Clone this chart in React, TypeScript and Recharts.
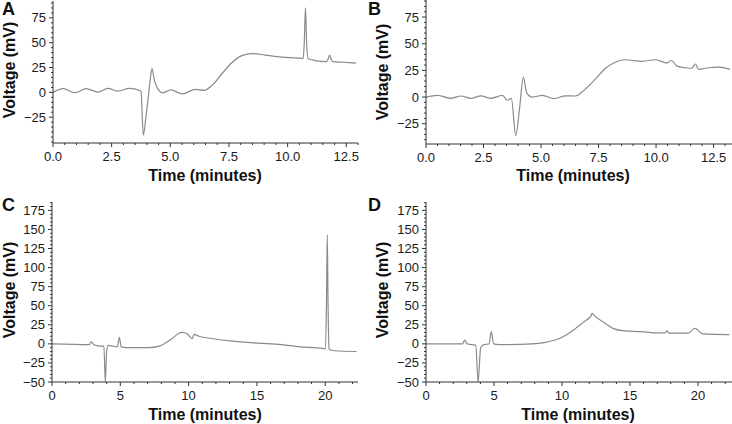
import React from "react";
import { LineChart, Line, XAxis, YAxis } from "recharts";

// ---- panel A ----
const timeA = [0, 0.44, 0.93, 1.42, 1.92, 2.34, 2.76, 3.26, 3.68, 3.75, 3.85, 3.96, 4.06, 4.14, 4.22, 4.32, 4.46, 4.67, 5.02, 5.51, 6.08, 6.43, 6.78, 7.21, 7.63, 8.05, 8.48, 9.04, 9.75, 10.6, 10.66, 10.71, 10.76, 10.81, 10.87, 11.16, 11.65, 11.72, 11.79, 11.86, 11.93, 12.4, 12.92];
const voltA = [0, 3.7, -0.3, 3.7, 0.3, 4, 1.3, 4, 2, 1, -43, -25, -5, 12, 24, 12, 4, -0.5, 2.5, -1.5, 3, 2, 7, 19, 30, 37, 39, 37.5, 35.5, 34.2, 34, 50, 85, 50, 34, 32, 31, 33, 37.5, 33, 31, 30.3, 29.5];

// ---- panel B ----
const timeB = [0, 0.51, 1.08, 1.52, 1.95, 2.38, 2.82, 3.32, 3.54, 3.71, 3.9, 4.07, 4.23, 4.38, 4.62, 5.06, 5.56, 6.07, 6.5, 6.79, 7.37, 7.8, 8.16, 8.67, 9.39, 9.97, 10.48, 10.66, 10.91, 11.27, 11.56, 11.71, 11.85, 12.28, 12.72, 13.22];
const voltB = [0, 1.6, -1.2, 1, -1.2, 1.2, -1.2, 1.6, -3, -1.2, -36, -10, 18.7, 4, 0, 1.5, -1.5, 1.2, 1, 5, 17, 27, 32, 35, 33.5, 35, 32, 34.5, 29, 27.5, 27, 31, 26, 27.5, 28, 26];

// ---- panel C ----
const timeC = [0, 2.74, 2.86, 3.1, 3.6, 3.8, 3.9, 4.0, 4.1, 4.44, 4.78, 4.93, 5.07, 5.4, 7.1, 7.84, 8.3, 8.8, 9.3, 9.54, 9.9, 10.27, 10.4, 10.75, 11.7, 13.2, 15.1, 16.8, 18.0, 19.8, 20.02, 20.09, 20.15, 20.21, 20.28, 20.38, 20.7, 22.3];
const voltC = [0, -1, 2.6, -1.5, -3, -3, -50, -10, -2, -3, -4, 8.7, -4, -5, -5, -3, 1, 7, 14, 15, 13, 7, 12.5, 10, 7, 3.5, 1, -1, -3.5, -6, -6.5, 50, 143, 50, -6, -8, -9, -10];

// ---- panel D ----
const timeD = [0, 2.68, 2.85, 3.02, 3.4, 3.66, 3.83, 4.02, 4.27, 4.63, 4.8, 4.97, 5.37, 7.8, 8.78, 9.5, 10.24, 10.98, 11.7, 12.0, 12.12, 12.2, 12.44, 13.17, 13.78, 14.6, 15.85, 16.8, 17.56, 17.73, 17.85, 19.27, 19.63, 19.76, 20.0, 20.37, 22.3];
const voltD = [0, 0, 5, 0, -1, -2, -50, -5, -1, 0, 16, 0, -1, 0, 2, 5, 11, 20, 30, 34, 36, 40, 36, 27, 20, 17, 16, 14.5, 14.5, 17, 14, 14, 19, 20.5, 18, 13, 12];

// ---- ticks ----
const xTicksShort = [0, 2.5, 5, 7.5, 10, 12.5];
const xTicksLong = [0, 5, 10, 15, 20];
const yTicksTop = [-25, 0, 25, 50, 75];
const yTicksBottom = [-50, -25, 0, 25, 50, 75, 100, 125, 150, 175];

const LINE = "#8a8a8a";
const AXIS = "#333";
const FONT = '"Liberation Sans", Arial, sans-serif';

const toRows = (t: number[], v: number[]) => t.map((x, i) => ({ t: x, v: v[i] }));

const steps = (from: number, to: number, step: number) => {
  const out: number[] = [];
  for (let i = 0; from + i * step <= to + 1e-9; i++) out.push(+(from + i * step).toFixed(4));
  return out;
};

const isMajor = (v: number, majors: number[]) => majors.some((m) => Math.abs(m - v) < 1e-6);
const fmtNum = (v: number, dec: number) => {
  const s = Math.abs(v).toFixed(dec);
  return v < 0 ? "\u2212" + s : s;
};

const XTick = ({ x, y, payload, majors, dec }: any) => {
  const major = isMajor(payload.value, majors);
  return (
    <g>
      <line x1={x} x2={x} y1={y} y2={y + (major ? 4 : 2)} stroke={AXIS} strokeWidth={1} />
      {major && (
        <text x={x} y={y + 18} textAnchor="middle" fontSize={13} fill="#1a1a1a" fontFamily={FONT}>
          {fmtNum(payload.value, dec)}
        </text>
      )}
    </g>
  );
};

const YTick = ({ x, y, payload, majors }: any) => {
  const major = isMajor(payload.value, majors);
  return (
    <g>
      <line x1={x} x2={x - (major ? 4 : 2)} y1={y} y2={y} stroke={AXIS} strokeWidth={1} />
      {major && (
        <text x={x - 7} y={y + 4.5} textAnchor="end" fontSize={13} fill="#1a1a1a" fontFamily={FONT}>
          {fmtNum(payload.value, 0)}
        </text>
      )}
    </g>
  );
};

type PanelProps = {
  letter: string;
  rows: { t: number; v: number }[];
  left: number;
  top: number;
  height: number;
  margin: { top: number; right: number; bottom: number; left: number };
  xDomain: [number, number];
  xMajors: number[];
  xMinor: number;
  xDec: number;
  yDomain: [number, number];
  yMajors: number[];
  yMinorFrom: number;
  yMinorTo: number;
  letterY: number;
  yTitleX: number;
  yTitleY: number;
  xTitleX: number;
  xTitleY: number;
};

const Panel = (p: PanelProps) => {
  const xTicks = steps(0, p.xDomain[1], p.xMinor);
  const yTicks = steps(p.yMinorFrom, p.yMinorTo, 5);
  return (
    <div style={{ position: "absolute", left: p.left, top: p.top, width: 366, height: p.height }}>
      <LineChart width={366} height={p.height} data={p.rows} margin={p.margin}>
        <XAxis
          type="number"
          dataKey="t"
          domain={p.xDomain}
          allowDataOverflow
          ticks={xTicks}
          interval={0}
          tickSize={0}
          tickMargin={0}
          tickLine={false}
          height={30}
          stroke={AXIS}
          tick={(props: any) => <XTick {...props} majors={p.xMajors} dec={p.xDec} />}
        />
        <YAxis
          type="number"
          domain={p.yDomain}
          allowDataOverflow
          ticks={yTicks}
          interval={0}
          tickSize={0}
          tickMargin={0}
          tickLine={false}
          width={40}
          stroke={AXIS}
          tick={(props: any) => <YTick {...props} majors={p.yMajors} />}
        />
        <Line
          type="monotone"
          dataKey="v"
          stroke={LINE}
          strokeWidth={1.2}
          dot={false}
          isAnimationActive={false}
        />
      </LineChart>
      <svg
        width={366}
        height={p.height}
        style={{ position: "absolute", left: 0, top: 0, pointerEvents: "none" }}
        fontFamily={FONT}
      >
        <text x={2} y={p.letterY} fontSize={18} fontWeight="bold" fill="#111">
          {p.letter}
        </text>
        <text
          x={p.yTitleX}
          y={p.yTitleY}
          transform={`rotate(-90 ${p.yTitleX} ${p.yTitleY})`}
          textAnchor="middle"
          fontSize={16}
          fontWeight="bold"
          fill="#111"
        >
          Voltage (mV)
        </text>
        <text x={p.xTitleX} y={p.xTitleY} textAnchor="middle" fontSize={16} fontWeight="bold" fill="#111">
          Time (minutes)
        </text>
      </svg>
    </div>
  );
};

export default function App() {
  return (
    <div
      style={{
        position: "absolute",
        left: 0,
        top: 0,
        width: 732,
        height: 424,
        background: "#fff",
        fontFamily: FONT,
        overflow: "hidden",
      }}
    >
      <Panel
        letter="A"
        rows={toRows(timeA, voltA)}
        left={0}
        top={0}
        height={190}
        margin={{ top: 1, right: 8, bottom: 17, left: 13 }}
        xDomain={[0, 13]}
        xMajors={xTicksShort}
        xMinor={0.5}
        xDec={1}
        yDomain={[-51, 92]}
        yMajors={yTicksTop}
        yMinorFrom={-50}
        yMinorTo={90}
        letterY={15}
        yTitleX={15}
        yTitleY={70}
        xTitleX={205}
        xTitleY={181}
      />
      <Panel
        letter="B"
        rows={toRows(timeB, voltB)}
        left={366}
        top={0}
        height={190}
        margin={{ top: 0, right: 0, bottom: 16, left: 20 }}
        xDomain={[0, 13.3]}
        xMajors={xTicksShort}
        xMinor={0.5}
        xDec={1}
        yDomain={[-44, 91]}
        yMajors={yTicksTop}
        yMinorFrom={-40}
        yMinorTo={90}
        letterY={15}
        yTitleX={22}
        yTitleY={72}
        xTitleX={207}
        xTitleY={181}
      />
      <Panel
        letter="C"
        rows={toRows(timeC, voltC)}
        left={0}
        top={190}
        height={234}
        margin={{ top: 12, right: 8, bottom: 12, left: 12 }}
        xDomain={[0, 22.4]}
        xMajors={xTicksLong}
        xMinor={1}
        xDec={0}
        yDomain={[-50, 186]}
        yMajors={yTicksBottom}
        yMinorFrom={-50}
        yMinorTo={185}
        letterY={21}
        yTitleX={15}
        yTitleY={100}
        xTitleX={205}
        xTitleY={230}
      />
      <Panel
        letter="D"
        rows={toRows(timeD, voltD)}
        left={366}
        top={190}
        height={234}
        margin={{ top: 12, right: 0, bottom: 12, left: 20 }}
        xDomain={[0, 22.5]}
        xMajors={xTicksLong}
        xMinor={1}
        xDec={0}
        yDomain={[-50, 186]}
        yMajors={yTicksBottom}
        yMinorFrom={-50}
        yMinorTo={185}
        letterY={21}
        yTitleX={22}
        yTitleY={100}
        xTitleX={212}
        xTitleY={230}
      />
    </div>
  );
}
